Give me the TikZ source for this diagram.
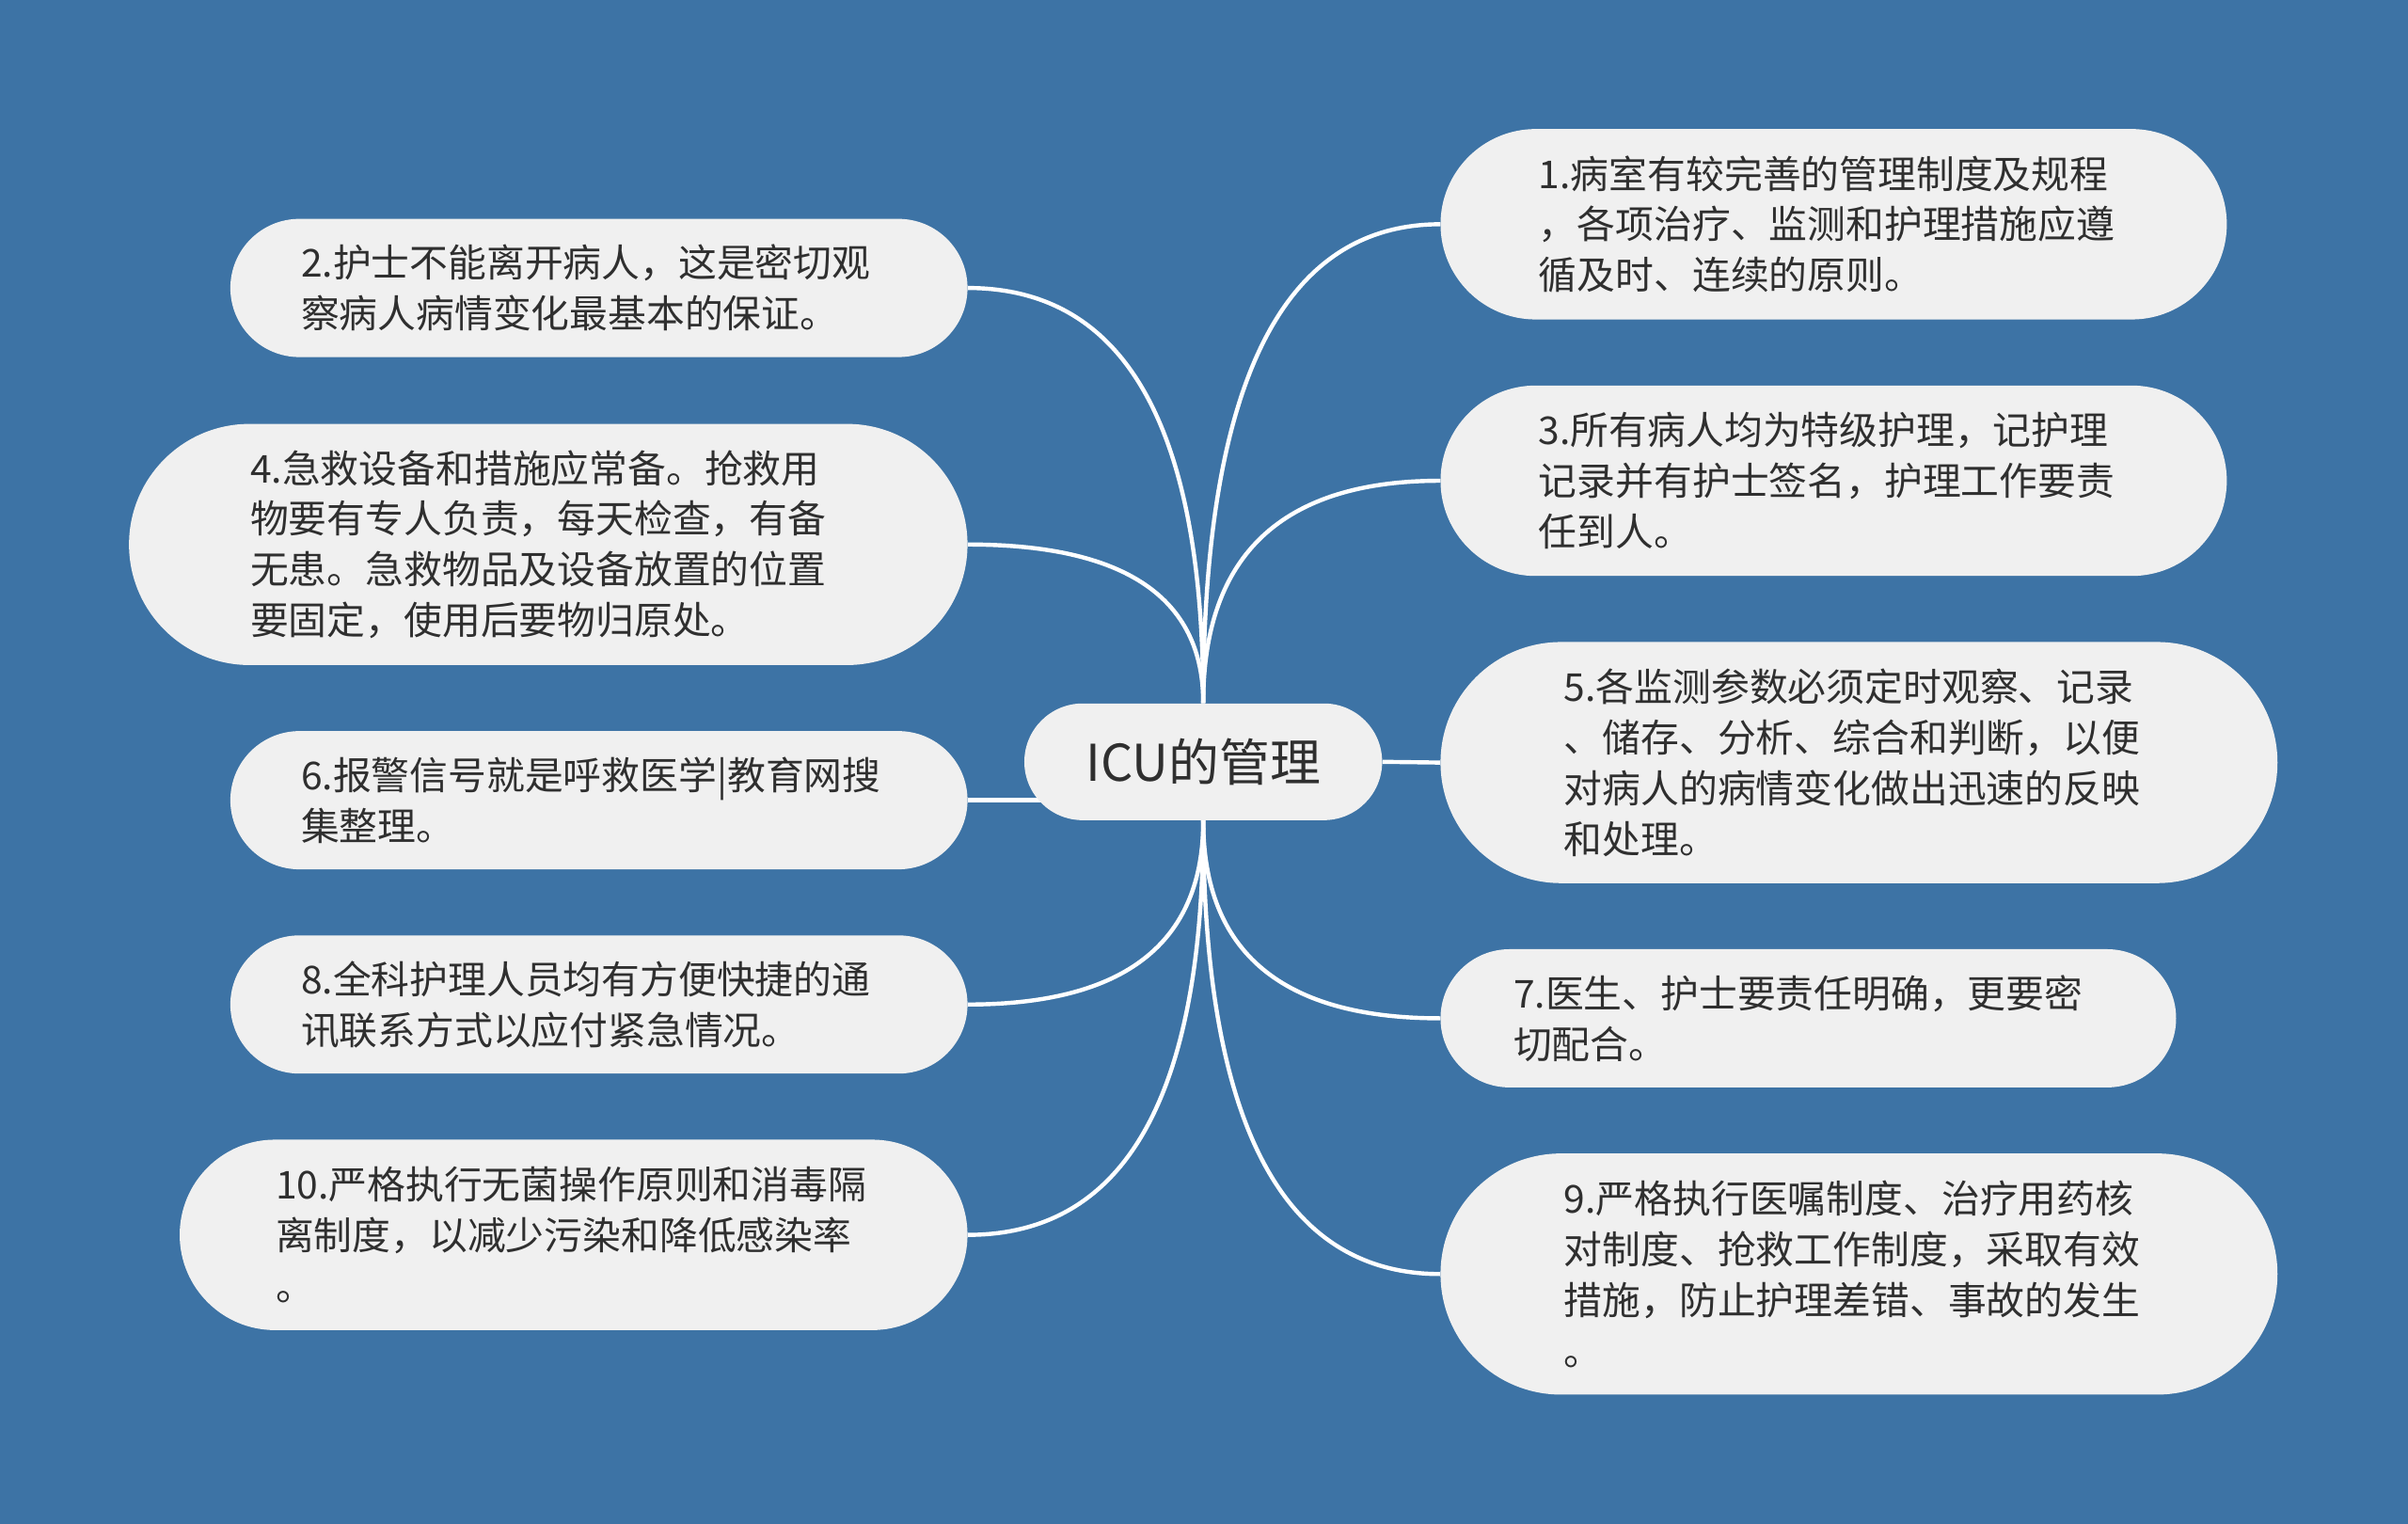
\documentclass[tikz,border=0pt]{standalone}
\usepackage{fontspec}
\setmainfont{Noto Sans CJK SC}
\usetikzlibrary{calc}
\definecolor{mapblue}{HTML}{3D73A5}
\definecolor{leafgray}{HTML}{F0F0F0}
\definecolor{inkgray}{HTML}{2F2F2F}
\pgfdeclarelayer{lines}
\pgfsetlayers{lines,main}

\begin{document}
\begin{tikzpicture}[x=1pt,y=1pt,
    leaf/.style={fill=leafgray, text=inkgray, align=left, text width=388pt,
      inner sep=0pt, font=\fontsize{25}{33}\selectfont},
    rside/.style={text width=384pt},
    twoline/.style={minimum height=90pt, rounded corners=45pt},
    threeline/.style={minimum height=124pt, rounded corners=62pt},
    fourline/.style={minimum height=157pt, rounded corners=78.5pt},
    branch/.style={white, line width=2.7pt}]

    % CENTRE
    \node[fill=leafgray, text=inkgray, minimum width=233pt, minimum height=76pt,
      rounded corners=38pt, inner sep=0pt, font=\fontsize{33}{40}\selectfont]
      (icu) at (783.5,-496) {ICU的管理};

    % RIGHT SIDE
    \node[leaf, rside, threeline, minimum width=512pt] (n1) at (1194,-146)
      {1.病室有较完善的管理制度及规程\\，各项治疗、监测和护理措施应遵\\循及时、连续的原则。};
    \node[leaf, rside, threeline, minimum width=512pt] (n3) at (1194,-313)
      {3.所有病人均为特级护理，记护理\\记录并有护士签名，护理工作要责\\任到人。};
    \node[leaf, rside, fourline, minimum width=545pt] (n5) at (1210.5,-496.5)
      {5.各监测参数必须定时观察、记录\\、储存、分析、综合和判断，以便\\对病人的病情变化做出迅速的反映\\和处理。};
    \node[leaf, rside, twoline, minimum width=479pt] (n7) at (1177.5,-663)
      {7.医生、护士要责任明确，更要密\\切配合。};
    \node[leaf, rside, fourline, minimum width=545pt] (n9) at (1210.5,-829.5)
      {9.严格执行医嘱制度、治疗用药核\\对制度、抢救工作制度，采取有效\\措施，防止护理差错、事故的发生\\。};

    % LEFT SIDE
    \node[leaf, twoline, minimum width=480pt] (n2) at (390,-187.5)
      {2.护士不能离开病人，这是密切观\\察病人病情变化最基本的保证。};
    \node[leaf, fourline, minimum width=546pt] (n4) at (357,-354.5)
      {4.急救设备和措施应常备。抢救用\\物要有专人负责，每天检查，有备\\无患。急救物品及设备放置的位置\\要固定，使用后要物归原处。};
    \node[leaf, twoline, minimum width=480pt] (n6) at (390,-521)
      {6.报警信号就是呼救医学|教育网搜\\集整理。};
    \node[leaf, twoline, minimum width=480pt] (n8) at (390,-654)
      {8.全科护理人员均有方便快捷的通\\讯联系方式以应付紧急情况。};
    \node[leaf, threeline, minimum width=513pt] (n10) at (373.5,-804)
      {10.严格执行无菌操作原则和消毒隔\\离制度，以减少污染和降低感染率\\。};

    \begin{pgfonlayer}{lines}
    \fill[mapblue] (0,0) rectangle (1568,-992);

    % BRANCHES
    \foreach \n in {n1,n3}
      \draw[branch] (icu.north) .. controls ($(icu.north)!2/3!(icu.north |- \n.west)$)
        and ($(\n.west)!2/3!(icu.north |- \n.west)$) .. (\n.west);
    \foreach \n in {n2,n4}
      \draw[branch] (icu.north) .. controls ($(icu.north)!2/3!(icu.north |- \n.east)$)
        and ($(\n.east)!2/3!(icu.north |- \n.east)$) .. (\n.east);
    \foreach \n in {n7,n9}
      \draw[branch] (icu.south) .. controls ($(icu.south)!2/3!(icu.south |- \n.west)$)
        and ($(\n.west)!2/3!(icu.south |- \n.west)$) .. (\n.west);
    \foreach \n in {n8,n10}
      \draw[branch] (icu.south) .. controls ($(icu.south)!2/3!(icu.south |- \n.east)$)
        and ($(\n.east)!2/3!(icu.south |- \n.east)$) .. (\n.east);
    \draw[branch] (icu.east) -- (n5.west);
    \draw[branch] (n6.east) -- (n6.east -| icu.center);
    \end{pgfonlayer}

\end{tikzpicture}
\end{document}
